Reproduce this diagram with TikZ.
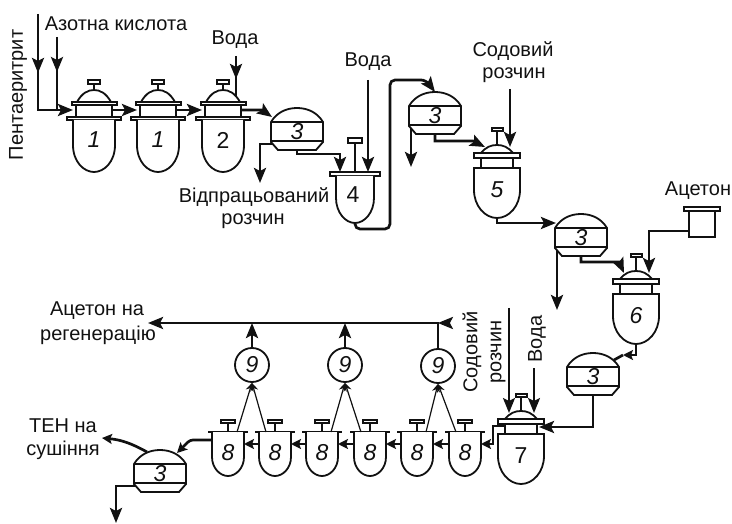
\documentclass[tikz,border=0pt]{standalone}
\usepackage{fontspec}
\setmainfont{Liberation Sans}
\usetikzlibrary{arrows.meta,positioning,calc,decorations.markings}
\definecolor{Ink}{HTML}{111111}
\tikzset{
  vessel/.style={draw=Ink,line width=1.8pt,fill=white},
  pipe/.style={draw=Ink,line width=2.7pt},
  shortpipe/.style={draw=Ink,line width=2.7pt,-{Stealth[length=10pt,width=10pt,inset=2pt]}},
  feed/.style={draw=Ink,line width=2pt},
  thinpipe/.style={draw=Ink,line width=1.2pt,-{Stealth[length=8pt,width=8pt]}},
  midflow/.style={postaction={decorate},decoration={markings,mark=at position #1 with {\arrow{>}}}},
  lab/.style={font=\fontsize{20}{22}\selectfont,text=Ink,inner sep=0pt},
  num/.style={font=\fontsize{23}{25}\selectfont\itshape,text=Ink,inner sep=0pt},
  numup/.style={font=\fontsize{23}{25}\selectfont,text=Ink,inner sep=0pt}
}
\newcommand{\reactorA}[5][num]{
\begin{scope}[shift={(#3,#4)}]
\draw[vessel] (-6,0) rectangle (6,4);
\draw[vessel] (0,4) -- (0,10);
\draw[vessel] (-17,22) .. controls (-12,13) and (-6,10) .. (0,10) .. controls (6,10) and (12,13) .. (17,22) -- cycle;
\draw[vessel] (-18,25) -- (-18,37) (18,25) -- (18,37);
\draw[vessel] (-22,22) rectangle (23,25);
\draw[vessel] (-27,37) rectangle (27,40);
\draw[vessel] (-21,40) -- (-21,65) .. controls (-21,82) and (-10,92) .. (0,92) .. controls (10,92) and (21,82) .. (21,65) -- (21,40);
\node[#1] (#2) at (0,60) {#5};
\coordinate (#2w) at (-21,30);
\coordinate (#2e) at (18,30);
\coordinate (#2t) at (13,17);
\end{scope}
}
\newcommand{\reactorB}[5][num]{
\begin{scope}[shift={(#3,#4)}]
\draw[vessel] (-5,0) rectangle (6,3);
\draw[vessel] (0,3) -- (0,17);
\draw[vessel] (-16,25) .. controls (-11,19) and (-6,17) .. (0,17) .. controls (6,17) and (11,19) .. (16,25) -- cycle;
\draw[vessel] (-16,30) -- (-16,40) (16,30) -- (16,40);
\draw[vessel] (-23,25) rectangle (23,30);
\draw[vessel] (-23,40) -- (-23,62) .. controls (-23,78) and (-12,90) .. (0,90) .. controls (12,90) and (23,78) .. (23,62) -- (23,40) -- cycle;
\node[#1] (#2) at (0,62) {#5};
\coordinate (#2a) at (-12,19);
\coordinate (#2b) at (13,19);
\coordinate (#2w) at (-15,32);
\coordinate (#2e) at (18,33);
\coordinate (#2o) at (0,90);
\end{scope}
}
\newcommand{\mixer}[4]{
\begin{scope}[shift={(#2,#3)}]
\draw[vessel] (-7,0) rectangle (7,3);
\draw[vessel] (0,3) -- (0,12);
\draw[vessel] (-20,12) -- (20,12);
\draw[vessel] (-16,12) -- (-16,37) .. controls (-16,48) and (-8,56) .. (0,56) .. controls (8,56) and (16,48) .. (16,37) -- (16,12);
\node[num] (#1) at (0,33) {#4};
\coordinate (#1w) at (-16,24);
\coordinate (#1e) at (16,24);
\coordinate (#1l) at (-9,12);
\coordinate (#1r) at (9,12);
\end{scope}
}
\newcommand{\separator}[4][num]{
\begin{scope}[shift={(#3,#4)}]
\draw[vessel] (-26,14) .. controls (-20,4) and (-10,0) .. (0,0) .. controls (10,0) and (20,4) .. (26,14) -- (26,34) -- (19,42) -- (-19,42) -- (-26,34) -- cycle;
\draw[vessel] (-26,14) -- (26,14) (-26,33) -- (26,33);
\node[#1] (#2) at (0,24) {3};
\coordinate (#2a) at (-25,9);
\coordinate (#2b) at (0,0);
\coordinate (#2c) at (21,7);
\coordinate (#2d) at (-13,2);
\coordinate (#2f) at (17,3);
\coordinate (#2l) at (-24,36);
\coordinate (#2o) at (0,42);
\end{scope}
}
\begin{document}
\begin{tikzpicture}[x=1pt,y=-1pt,>={Stealth[length=15pt,width=12pt,inset=3pt]}]
\useasboundingbox (0,0) rectangle (732,524);
\reactorA{ra}{94}{80}{1}
\reactorA{rb}{158}{80}{1}
\reactorA[numup]{rc}{223}{80}{2}
\separator{sa}{297}{108}
\separator{sb}{435}{92}
\separator{sc}{581}{214}
\separator{sd}{593}{353}
\separator{se}{160}{450}
\reactorB{re}{497}{128}{5}
\reactorB{rf}{636}{254}{6}
\reactorB[numup]{rg}{521}{394}{7}
\mixer{ma}{228}{420}{8}
\mixer{mb}{275}{420}{8}
\mixer{mc}{322}{420}{8}
\mixer{md}{370}{420}{8}
\mixer{me}{417}{420}{8}
\mixer{mf}{465}{420}{8}
\draw[vessel] (348,138) rectangle (362,143);
\draw[vessel] (355,143) -- (355,172);
\draw[vessel] (330,172) rectangle (380,176);
\draw[vessel] (336,176) -- (336,198) .. controls (336,212) and (345,223) .. (355,223) .. controls (365,223) and (374,212) .. (374,198) -- (374,176);
\node[numup] (vd) at (353,195) {4};
\coordinate (vda) at (340,172);
\coordinate (vdb) at (368,172);
\coordinate (vdo) at (355,223);
\draw[vessel] (689,211) rectangle (715,237);
\draw[vessel] (684,207) rectangle (720,211);
\coordinate (tanko) at (689,231);
\node[circle,vessel,minimum size=34pt,inner sep=0pt,num] (ca) at (252,365) {9};
\node[circle,vessel,minimum size=34pt,inner sep=0pt,num] (cb) at (345,365) {9};
\node[circle,vessel,minimum size=34pt,inner sep=0pt,num] (cc) at (438,366) {9};
\coordinate (fa) at (38,14);
\coordinate (fb) at (57,37);
\coordinate (fc) at (236,56);
\coordinate (fd) at (368,80);
\coordinate (fe) at (510,89);
\coordinate (ff) at (509,308);
\coordinate (fg) at (534,368);
\coordinate (wa) at (260,183);
\coordinate (wb) at (411,167);
\coordinate (wc) at (557,310);
\coordinate (wd) at (116,523);
\coordinate (we) at (102,438);
\coordinate (wf) at (148,323);
\coordinate (ji) at (390,229);
\coordinate (ja) at (390,80);
\coordinate (jb) at (426,80);
\coordinate (jc) at (262,110);
\coordinate (jd) at (473,141);
\coordinate (je) at (619,262);
\coordinate (jf) at (623,355);
\coordinate (jg) at (493,426);
\coordinate (jh) at (190,440);
\coordinate (mao) at (212,440);
\draw[pipe,->,midflow=.45] (fa) |- (raw);
\draw[pipe,midflow=.48] (fb) -- (fb |- raw);
\draw[pipe,->] (rae) -- (rbw);
\draw[pipe,->] (rbe) -- (rcw);
\draw[pipe,midflow=.56] (fc) -- (rct);
\draw[pipe,->] (rce) -- (jc) -- (saa);
\draw[pipe,->] (sal) -| (wa);
\draw[pipe,->] (sao) -- ++(0,4) -| (vda);
\draw[pipe,->] (fd) -- (vdb);
\draw[pipe,->,rounded corners=5pt] (vdo) |- (ji) -- (ja) -- (jb) -- (sbb);
\draw[pipe,->] (sbl) -- (wb);
\draw[pipe,->] (sbo) -- ++(0,7) -- (jd) -- (rea);
\draw[pipe,->] (fe) -- (reb);
\draw[pipe,->] (reo) -- ++(0,5) -- (sca);
\draw[pipe,->] (scl) -- (wc);
\draw[pipe,->] (sco) -- ++(0,6) -- (je) -- (rfa);
\draw[pipe,->] (tanko) -| (rfb);
\draw[shortpipe] (rfo) |- (jf);
\draw[pipe] (jf) -- (sdc);
\draw[pipe,->] (sdo) |- (rge);
\draw[feed,->] (ff) -- (rga);
\draw[feed,->] (fg) -- (rgb);
\draw[shortpipe] (rgw) -- (jg) |- (mfe);
\draw[shortpipe] (mfw) -- (mee);
\draw[shortpipe] (mew) -- (mde);
\draw[shortpipe] (mdw) -- (mce);
\draw[shortpipe] (mcw) -- (mbe);
\draw[shortpipe] (mbw) -- (mae);
\draw[shortpipe,rounded corners=3pt] (mao) -- (jh) -- (sef);
\draw[shortpipe] (sed) to[bend right=12] (we);
\draw[pipe,->] (sel) -| (wd);
\draw[thinpipe] (mar) -- (ca.south);
\draw[thinpipe] (mbl) -- (ca.south);
\draw[thinpipe] (mcr) -- (cb.south);
\draw[thinpipe] (mdl) -- (cb.south);
\draw[thinpipe] (mer) -- (cc.south);
\draw[thinpipe] (mfl) -- (cc.south);
\draw[pipe,->] (ca.north) -- (ca.north |- wf);
\draw[pipe,->] (cb.north) -- (cb.north |- wf);
\draw[pipe,->,midflow=.08] (cc.north) |- (wf);
\node[lab] (tnitric) at (116,24) {Азотна кислота};
\node[lab,rotate=90] (tpenta) at (18,95) {Пентаеритрит};
\node[lab] (twatera) at (235,40) {Вода};
\node[lab] (tspent) at (254,197) {Відпрацьований};
\node[lab] (tspentb) at (253,221) {розчин};
\node[lab] (twaterb) at (368,62) {Вода};
\node[lab] (tsoda) at (513,51) {Содовий};
\node[lab] (tsodab) at (514,75) {розчин};
\node[lab] (tacetone) at (698,191) {Ацетон};
\node[lab] (tregen) at (97,311) {Ацетон на};
\node[lab] (tregenb) at (98,335) {регенерацію};
\node[lab] (tten) at (63,426) {ТЕН на};
\node[lab] (ttenb) at (63,450) {сушіння};
\node[lab,rotate=90] (tsodc) at (472,352) {Содовий};
\node[lab,rotate=90] (tsodd) at (498,352) {розчин};
\node[lab,rotate=90] (twaterc) at (537,339) {Вода};
\end{tikzpicture}
\end{document}
